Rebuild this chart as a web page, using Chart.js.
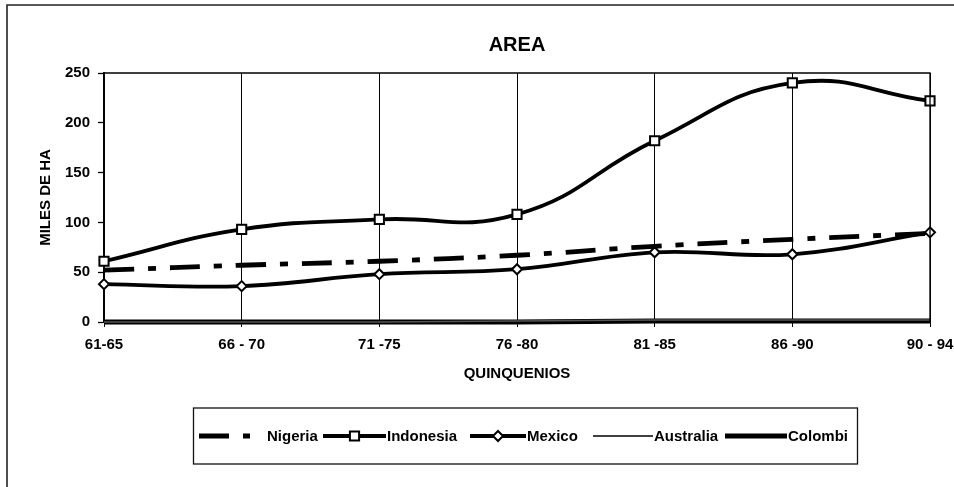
<!DOCTYPE html>
<html><head><meta charset="utf-8">
<script src="https://cdn.jsdelivr.net/npm/chart.js@4.4.1/dist/chart.umd.min.js"></script>
<style>html,body{margin:0;padding:0;background:#fff;}canvas{display:block;}</style>
</head><body>
<canvas id="c" width="954" height="487"></canvas>
<script>
const categories = ['61-65', '66 - 70', '71 -75', '76 -80', '81 -85', '86 -90', '90 - 94'];
const nigeria   = [52, 57, 61, 67, 76, 83, 89];
const indonesia = [61, 93, 103, 108, 182, 240, 222];
const mexico    = [38, 36, 48, 53, 70, 68, 90];
const australia = [0, 0, 0, 1, 2, 2, 2];
const colombi   = [0, 0, 0, 0, 1, 1, 1];
const yTicks = [0, 50, 100, 150, 200, 250];
const seriesNames = ['Nigeria', 'Indonesia', 'Mexico', 'Australia', 'Colombi'];

const FONT = "'Liberation Sans', Arial, Helvetica, sans-serif";
const NIG_DASH = [30, 14, 8, 14];

function drawMarker(ctx, style, r, x, y, bw) {
  ctx.save();
  ctx.setLineDash([]);
  ctx.fillStyle = '#fff';
  ctx.strokeStyle = '#000';
  ctx.lineWidth = bw;
  ctx.beginPath();
  if (style === 'rect') {
    const s = r * Math.SQRT1_2;
    ctx.rect(x - s, y - s, 2 * s, 2 * s);
  } else {
    ctx.moveTo(x, y - r); ctx.lineTo(x + r, y); ctx.lineTo(x, y + r); ctx.lineTo(x - r, y); ctx.closePath();
  }
  ctx.fill(); ctx.stroke();
  ctx.restore();
}

const decor = {
  id: 'decor',
  afterDraw(chart) {
    const ctx = chart.ctx, ca = chart.chartArea;
    ctx.save();
    // plot top/right border
    ctx.strokeStyle = '#000'; ctx.lineWidth = 1.3;
    ctx.beginPath(); ctx.moveTo(ca.left, ca.top); ctx.lineTo(ca.right, ca.top); ctx.lineTo(ca.right, ca.bottom); ctx.stroke();
    // outer frame
    ctx.strokeStyle = '#222'; ctx.lineWidth = 1.6;
    ctx.beginPath(); ctx.moveTo(7, 487); ctx.lineTo(7, 5); ctx.lineTo(954, 5); ctx.stroke();
    // legend box
    ctx.strokeStyle = '#111'; ctx.lineWidth = 1.3;
    ctx.strokeRect(193.5, 408, 664, 56);
    // legend items
    const starts = [199, 323, 470, 593, 725];
    const widths = [64, 63, 56, 60, 62];
    const y = 436;
    ctx.font = 'bold 15px ' + FONT;
    ctx.textBaseline = 'middle';
    ctx.fillStyle = '#000';
    chart.data.datasets.forEach((ds, i) => {
      const x0 = starts[i], w = widths[i];
      ctx.save();
      ctx.strokeStyle = '#000';
      ctx.lineWidth = ds.borderWidth;
      ctx.lineCap = 'butt';
      ctx.setLineDash(ds.borderDash || []);
      ctx.beginPath(); ctx.moveTo(x0, y); ctx.lineTo(i === 0 ? x0 + 51 : x0 + w, y); ctx.stroke();
      ctx.restore();
      if (ds.pointRadius > 0) drawMarker(ctx, ds.pointStyle, ds.pointRadius, x0 + w / 2, y, ds.pointBorderWidth);
      ctx.fillText(ds.label, x0 + w + (i === 0 ? 4 : 1), y + 1);
    });
    ctx.restore();
  }
};

const datasets = [
  { label: seriesNames[0], data: nigeria, borderColor: '#000', borderWidth: 4.8, borderDash: NIG_DASH, pointRadius: 0, tension: 0.4, clip: false },
  { label: seriesNames[1], data: indonesia, borderColor: '#000', borderWidth: 3.8, pointStyle: 'rect', pointRadius: 6.5, pointBorderWidth: 2, pointBackgroundColor: '#fff', pointBorderColor: '#000', tension: 0.45, clip: false },
  { label: seriesNames[2], data: mexico, borderColor: '#000', borderWidth: 3.8, pointStyle: 'rectRot', pointRadius: 5, pointBorderWidth: 2, pointBackgroundColor: '#fff', pointBorderColor: '#000', tension: 0.4, clip: false },
  { label: seriesNames[3], data: australia, borderColor: '#555', borderWidth: 1.5, pointRadius: 0, tension: 0.4, clip: false },
  { label: seriesNames[4], data: colombi, borderColor: '#000', borderWidth: 5, pointRadius: 0, tension: 0.4, clip: false }
];

new Chart(document.getElementById('c'), {
  type: 'line',
  data: { labels: categories, datasets },
  plugins: [decor],
  options: {
    responsive: false,
    animation: false,
    devicePixelRatio: 1,
    layout: { padding: { left: 36.5, right: 24, top: 0, bottom: 104 } },
    plugins: {
      legend: { display: false },
      tooltip: { enabled: false },
      title: {
        display: true, text: 'AREA', fullSize: false, color: '#000',
        font: { family: FONT, size: 20, weight: 'bold', lineHeight: 1.2 },
        padding: { top: 33.5, bottom: 15.5 }
      }
    },
    scales: {
      x: {
        type: 'category',
        offset: false,
        grid: { display: true, drawOnChartArea: true, color: '#000', lineWidth: 1, tickLength: 5, tickColor: '#000' },
        border: { display: true, color: '#000', width: 2 },
        ticks: { color: '#000', font: { family: FONT, size: 15, weight: 'bold' }, padding: 9, autoSkip: false, maxRotation: 0, minRotation: 0 },
        title: { display: true, text: 'QUINQUENIOS', color: '#000', font: { family: FONT, size: 15, weight: 'bold', lineHeight: 1.2 }, padding: { top: 0, bottom: 0 } },
        afterFit(s) { s.height = 61; s.paddingLeft = 0; s.paddingRight = 0; }
      },
      y: {
        min: 0, max: 250,
        afterBuildTicks(s) { s.ticks = yTicks.map(v => ({ value: v })); },
        grid: { display: true, drawOnChartArea: false, tickLength: 6, tickColor: '#000', tickWidth: 1.3 },
        border: { display: true, color: '#000', width: 2 },
        ticks: { color: '#000', font: { family: FONT, size: 15, weight: 'bold' }, padding: 8 },
        title: { display: true, text: 'MILES DE HA', color: '#000', font: { family: FONT, size: 15, weight: 'bold', lineHeight: 1.2 }, padding: { top: 0, bottom: 0 } },
        afterFit(s) { s.width = 67.5; s.paddingTop = 0; s.paddingBottom = 0; }
      }
    }
  }
});
</script>
</body></html>
